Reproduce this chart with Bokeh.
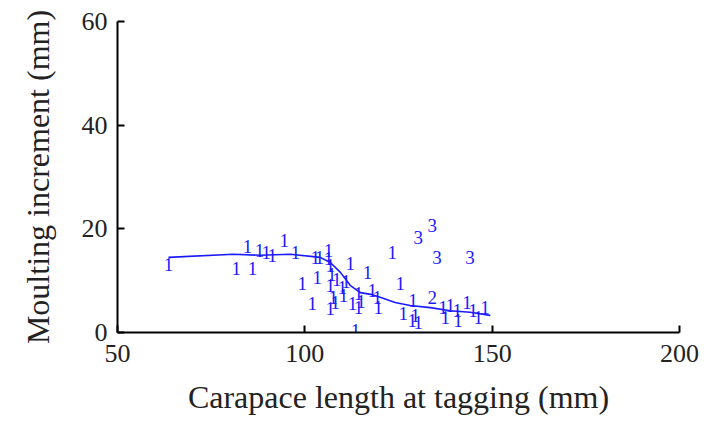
from bokeh.plotting import figure
from bokeh.models import ColumnDataSource, Range1d, FixedTicker
from bokeh.core.properties import value
from bokeh.embed import file_html
from bokeh.resources import INLINE

# Observed moult increments, marker label "1"
x_group1 = [63.6, 81.7, 84.7, 86.0, 87.9, 89.7, 91.3, 94.5, 97.5, 102.8, 103.9, 106.3, 106.3,
            106.8, 99.3, 102.0, 103.3, 106.8, 112.1, 116.7, 107.6, 106.8, 108.1, 110.0, 110.3,
            112.7, 114.3, 114.3, 113.5, 118.0, 119.3, 123.3, 125.5, 119.6, 126.3, 128.9, 128.7,
            130.3, 129.5, 136.9, 137.5, 140.7, 140.9, 143.3, 144.9, 146.3, 148.1, 138.8, 107.2,
            108.5, 111.0, 115.0]
y_group1 = [13.1, 12.4, 16.6, 12.4, 15.8, 15.4, 14.9, 17.8, 15.4, 14.5, 14.5, 15.8, 14.3,
            12.9, 9.5, 5.6, 10.6, 9.1, 13.3, 11.6, 6.8, 4.6, 5.8, 8.7, 7.1,
            5.6, 7.5, 4.8, 0.3, 8.1, 6.8, 15.4, 9.5, 4.8, 3.7, 6.2, 2.3,
            1.9, 3.3, 4.8, 2.9, 4.2, 2.3, 5.8, 4.2, 2.9, 4.8, 5.2, 11.2,
            10.2, 9.8, 6.0]
# marker label "2"
x_group2 = [134.0]
y_group2 = [6.8]
# marker label "3"
x_group3 = [130.3, 134.0, 135.3, 144.1]
y_group3 = [18.3, 20.7, 14.5, 14.5]

# fitted curve
x_fit = [63.6, 80.9, 88.1, 96.1, 104.1, 106.8, 109.5, 112.1, 114.8, 118.0, 120.1,
         124.1, 128.1, 133.5, 138.8, 144.1, 149.5]
y_fit = [14.5, 15.1, 14.9, 15.1, 14.5, 13.5, 11.6, 9.1, 7.7, 7.3, 6.8,
         5.8, 5.2, 4.8, 4.2, 3.9, 3.3]

x_ticks = [50, 100, 150, 200]
y_ticks = [0, 20, 40, 60]

p = figure(width=710, height=418, output_backend="svg", toolbar_location=None,
           x_range=Range1d(50, 200), y_range=Range1d(0, 60),
           min_border_left=117, min_border_right=31, min_border_top=21, min_border_bottom=86)
p.outline_line_color = None
p.xgrid.visible = False
p.ygrid.visible = False

blue = "#1a1aff"
p.line(x_fit, y_fit, line_color=blue, line_width=1.6)

font = value("Liberation Serif")
for xs, ys, lab in [(x_group1, y_group1, "1"), (x_group2, y_group2, "2"), (x_group3, y_group3, "3")]:
    src = ColumnDataSource(dict(x=xs, y=ys, t=[lab] * len(xs)))
    p.text("x", "y", text="t", source=src, text_color=blue, text_font=font,
           text_font_size="19px", text_align="center", text_baseline="middle")

for ax in (p.xaxis[0], p.yaxis[0]):
    ax.axis_line_width = 2
    ax.axis_line_color = "black"
    ax.major_tick_in = 7
    ax.major_tick_out = 0
    ax.major_tick_line_width = 2
    ax.minor_tick_line_color = None
    ax.major_label_text_font = "Liberation Serif"
    ax.major_label_text_font_size = "26px"
    ax.major_label_text_color = "#222222"
    ax.axis_label_text_font = "Liberation Serif"
    ax.axis_label_text_font_size = "32px"
    ax.axis_label_text_font_style = "normal"
    ax.axis_label_text_color = "#222222"

p.xaxis.ticker = FixedTicker(ticks=x_ticks)
p.yaxis.ticker = FixedTicker(ticks=y_ticks)
p.xaxis.axis_label = "Carapace length at tagging (mm)"
p.yaxis.axis_label = "Moulting increment (mm)"
p.xaxis.major_label_standoff = 12
p.xaxis.axis_label_standoff = 14
p.yaxis.major_label_standoff = 10
p.yaxis.axis_label_standoff = 23

open("out.html", "w").write(file_html(p, INLINE))
